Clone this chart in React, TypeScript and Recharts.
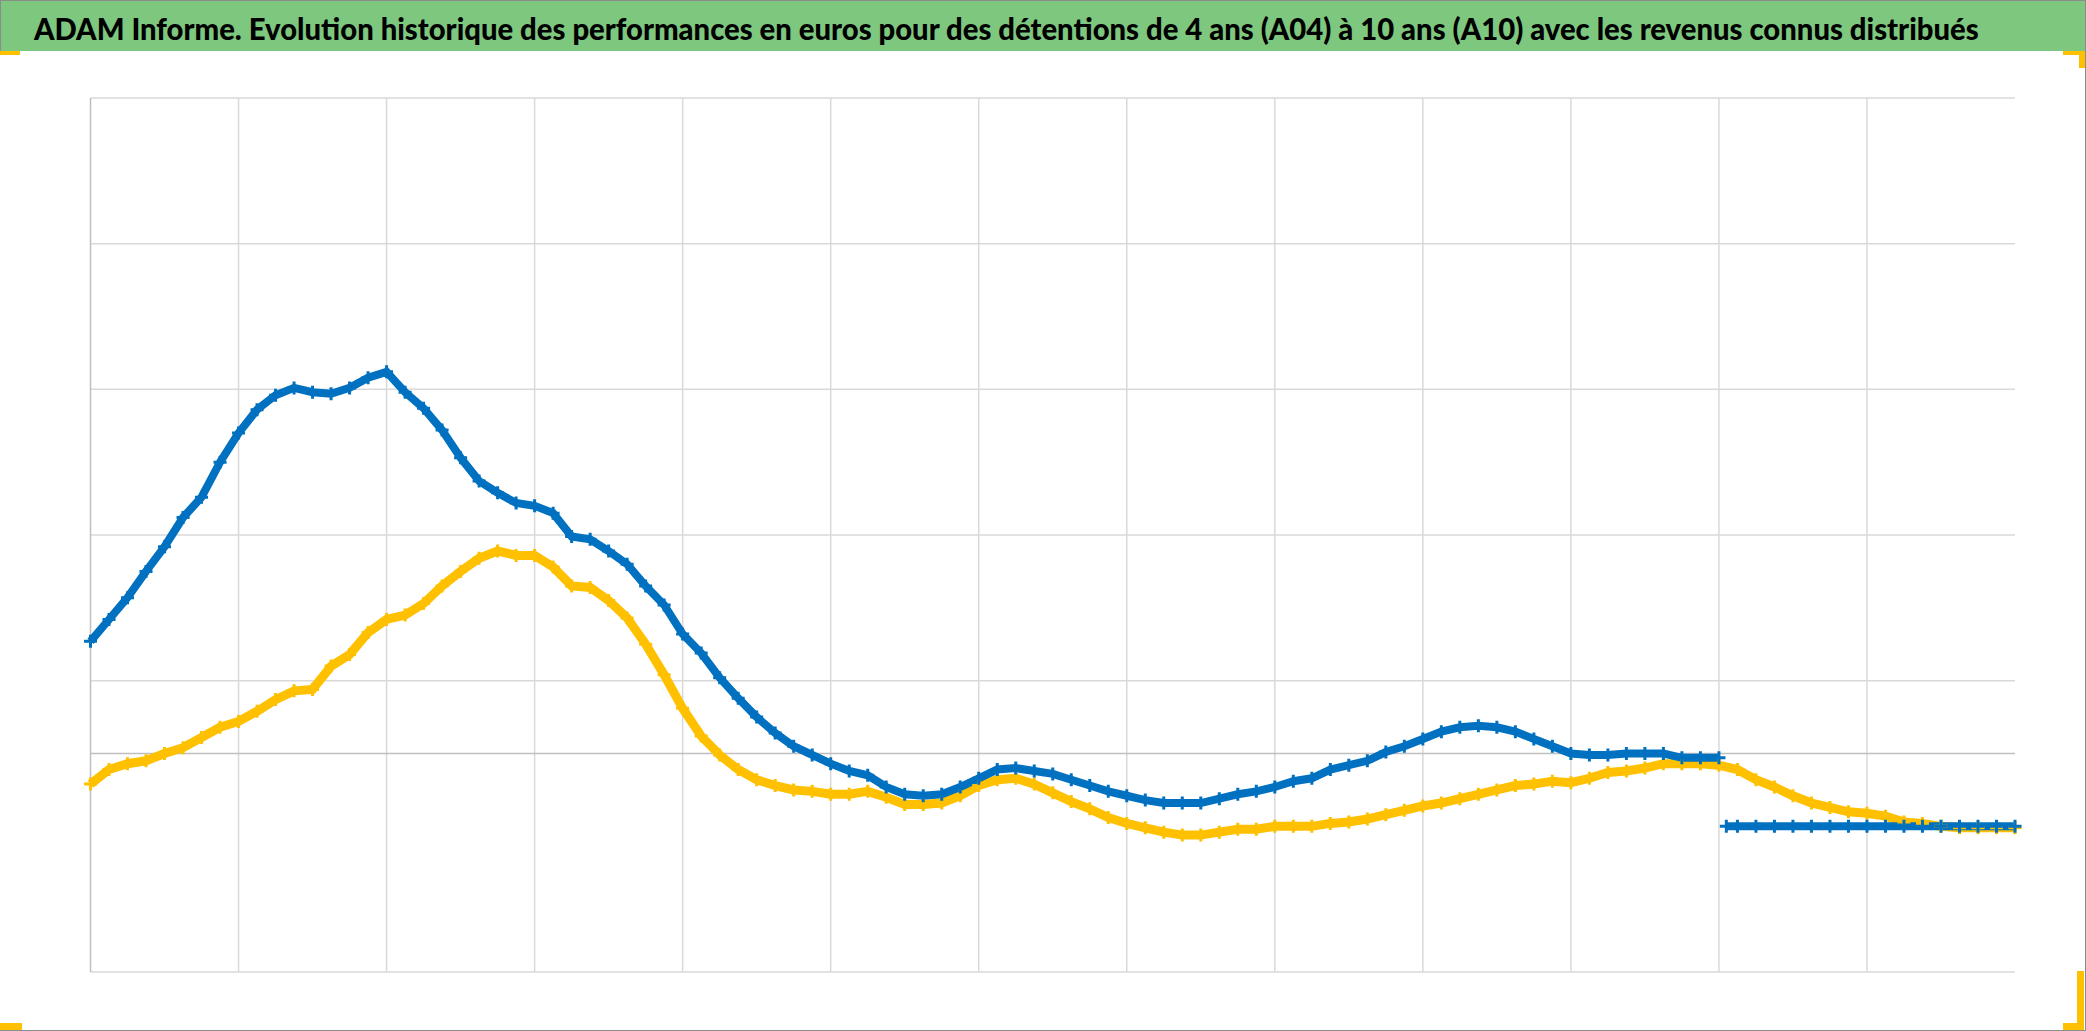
import { useLayoutEffect, useRef, useState } from "react";
import { LineChart, Line, XAxis, YAxis, ReferenceLine } from "recharts";

const TITLE =
  "ADAM Informe. Evolution historique des performances en euros pour des détentions de 4 ans (A04) à 10 ans (A10) avec les revenus connus distribués";

// position along the horizontal axis, in grid intervals
const T = [
  0, 0.125, 0.25, 0.375, 0.5, 0.625, 0.75, 0.875,
  1, 1.125, 1.25, 1.375, 1.5, 1.625, 1.75, 1.875,
  2, 2.125, 2.25, 2.375, 2.5, 2.625, 2.75, 2.875,
  3, 3.125, 3.25, 3.375, 3.5, 3.625, 3.75, 3.875,
  4, 4.125, 4.25, 4.375, 4.5, 4.625, 4.75, 4.875,
  5, 5.125, 5.25, 5.375, 5.5, 5.625, 5.75, 5.875,
  6, 6.125, 6.25, 6.375, 6.5, 6.625, 6.75, 6.875,
  7, 7.125, 7.25, 7.375, 7.5, 7.625, 7.75, 7.875,
  8, 8.125, 8.25, 8.375, 8.5, 8.625, 8.75, 8.875,
  9, 9.125, 9.25, 9.375, 9.5, 9.625, 9.75, 9.875,
  10, 10.125, 10.25, 10.375, 10.5, 10.625, 10.75, 10.875,
  11, 11.125, 11.25, 11.375, 11.5, 11.625, 11.75, 11.875,
  12, 12.125, 12.25, 12.375, 12.5, 12.625, 12.75, 12.875,
  13,
];

// blue series
const A04 = [
  0.77, 0.92, 1.07, 1.25, 1.42, 1.62, 1.76, 2.0,
  2.2, 2.36, 2.46, 2.51, 2.48, 2.47, 2.51, 2.58,
  2.62, 2.48, 2.37, 2.22, 2.03, 1.87, 1.79, 1.72,
  1.7, 1.65, 1.49, 1.47, 1.39, 1.3, 1.15, 1.02,
  0.82, 0.69, 0.52, 0.38, 0.25, 0.14, 0.05, -0.01,
  -0.07, -0.12, -0.15, -0.23, -0.28, -0.29, -0.28, -0.23,
  -0.17, -0.11, -0.1, -0.12, -0.14, -0.18, -0.22, -0.26,
  -0.29, -0.32, -0.34, -0.34, -0.34, -0.31, -0.28, -0.26,
  -0.23, -0.19, -0.17, -0.11, -0.08, -0.05, 0.01, 0.05,
  0.1, 0.15, 0.18, 0.19, 0.18, 0.15, 0.1, 0.05,
  0.0, -0.01, -0.01, 0.0, 0.0, 0.0, -0.03, -0.03,
  -0.03, null, null, null, null, null, null, null,
  null, null, null, null, null, null, null, null,
  null,
];

// yellow series
const A10 = [
  -0.21, -0.11, -0.07, -0.05, 0.0, 0.04, 0.11, 0.18,
  0.22, 0.29, 0.37, 0.43, 0.44, 0.6, 0.68, 0.83,
  0.92, 0.95, 1.03, 1.15, 1.25, 1.34, 1.39, 1.36,
  1.36, 1.28, 1.15, 1.14, 1.05, 0.93, 0.75, 0.54,
  0.31, 0.12, -0.01, -0.11, -0.18, -0.22, -0.25, -0.26,
  -0.28, -0.28, -0.26, -0.3, -0.35, -0.35, -0.34, -0.29,
  -0.22, -0.18, -0.17, -0.21, -0.27, -0.33, -0.38, -0.44,
  -0.48, -0.51, -0.54, -0.56, -0.56, -0.54, -0.52, -0.52,
  -0.5, -0.5, -0.5, -0.48, -0.47, -0.45, -0.42, -0.39,
  -0.36, -0.34, -0.31, -0.28, -0.25, -0.22, -0.21, -0.19,
  -0.2, -0.17, -0.13, -0.12, -0.1, -0.07, -0.07, -0.07,
  -0.08, -0.11, -0.18, -0.23, -0.29, -0.34, -0.37, -0.4,
  -0.41, -0.43, -0.47, -0.48, -0.5, -0.51, -0.51, -0.51,
  -0.51,
];

// flat blue tail at the end
const FLAT_T = [11.05, 11.125, 11.25, 11.375, 11.5, 11.625, 11.75, 11.875, 12, 12.125, 12.25, 12.375, 12.5, 12.625, 12.75, 12.875, 13];
const FLAT_V = [-0.5, -0.5, -0.5, -0.5, -0.5, -0.5, -0.5, -0.5, -0.5, -0.5, -0.5, -0.5, -0.5, -0.5, -0.5, -0.5, -0.5];

const X_TICKS = [0, 1, 2, 3, 4, 5, 6, 7, 8, 9, 10, 11, 12];
const Y_DOMAIN = [-1.5, 4.5];
// horizontal gridlines that are visible (none at -0.5 in the original)
const Y_GRID = [-1.5, 0.5, 1.5, 2.5, 3.5, 4.5];

const BLUE = "#0070C0";
const YELLOW = "#FFC000";
const ORANGE = "#FFC000";
const GRID = "#d9d9d9";
const AXIS = "#bfbfbf";

const rows = T.map((t, i) => ({ t, a04: A04[i], a10: A10[i] }));
const flatRows = FLAT_T.map((t, i) => ({ t, flat: FLAT_V[i] }));

function plusDot(color: string) {
  return (props: any) => {
    const { cx, cy, index } = props;
    if (cx == null || cy == null || Number.isNaN(cy) || props.value == null) {
      return <g key={`n-${index}`} />;
    }
    return (
      <path
        key={`p-${index}`}
        d={`M${cx - 6.5},${cy}h13M${cx},${cy - 6.5}v13`}
        stroke={color}
        strokeWidth={3}
        fill="none"
      />
    );
  };
}

function Title() {
  const ref = useRef<SVGTextElement>(null);
  const [sx, setSx] = useState(1);
  useLayoutEffect(() => {
    if (ref.current) {
      const w = ref.current.getComputedTextLength();
      if (w > 0) setSx(1946 / w);
    }
  }, []);
  return (
    <svg width={2086} height={50} style={{ position: "absolute", left: 0, top: 0 }}>
      <text
        ref={ref}
        transform={`translate(33,39) scale(${sx},1)`}
        fontFamily="Lato, 'Open Sans', sans-serif"
        fontWeight={900}
        fontSize={31}
        fill="#000"
      >
        {TITLE}
      </text>
    </svg>
  );
}

export default function App() {
  return (
    <div
      style={{
        position: "absolute",
        left: 0,
        top: 0,
        width: 2086,
        height: 1031,
        background: "#fff",
        boxSizing: "border-box",
        borderTop: "1.5px solid #8c8c8c",
        borderRight: "1.5px solid #8c8c8c",
        borderBottom: "1.5px solid #8c8c8c",
        overflow: "hidden",
      }}
    >
      <div style={{ position: "absolute", left: 0, top: 0 }}>
        <LineChart
          width={2086}
          height={1031}
          data={rows}
          margin={{ top: 97, right: 71, bottom: 60, left: 90.5 }}
        >
          <XAxis dataKey="t" type="number" domain={[0, 13]} ticks={X_TICKS} hide />
          <YAxis type="number" domain={Y_DOMAIN} ticks={Y_GRID} hide />
          {Y_GRID.map((v) => (
            <ReferenceLine key={`gy-${v}`} y={v} stroke={GRID} strokeWidth={1.5} />
          ))}
          {X_TICKS.map((v) => (
            <ReferenceLine key={`gx-${v}`} x={v} stroke={v === 0 ? AXIS : GRID} strokeWidth={1.5} />
          ))}
          <ReferenceLine y={0} stroke={AXIS} strokeWidth={1.5} />
          <Line
            dataKey="a10"
            type="linear"
            stroke={YELLOW}
            strokeWidth={9}
            dot={plusDot(YELLOW)}
            isAnimationActive={false}
          />
          <Line
            dataKey="a04"
            type="linear"
            stroke={BLUE}
            strokeWidth={8}
            dot={plusDot(BLUE)}
            isAnimationActive={false}
          />
          <Line
            data={flatRows}
            dataKey="flat"
            type="linear"
            stroke={BLUE}
            strokeWidth={8}
            dot={plusDot(BLUE)}
            isAnimationActive={false}
          />
        </LineChart>
      </div>

      {/* title band */}
      <div
        style={{
          position: "absolute",
          left: 0,
          top: 0,
          width: 2086,
          height: 50,
          background: "#7ec77f",
          borderLeft: "1.5px solid #8c8c8c",
          boxSizing: "border-box",
        }}
      >
        <Title />
      </div>

      {/* corner handles */}
      <div style={{ position: "absolute", left: 0, top: 50, width: 20, height: 4, background: ORANGE }} />
      <div style={{ position: "absolute", left: 2063, top: 50, width: 23, height: 4, background: ORANGE }} />
      <div style={{ position: "absolute", left: 2079, top: 50, width: 6, height: 17, background: ORANGE }} />
      <div style={{ position: "absolute", left: 0, top: 1022, width: 22, height: 7, background: ORANGE }} />
      <div style={{ position: "absolute", left: 2063, top: 1022, width: 21, height: 7, background: ORANGE }} />
      <div style={{ position: "absolute", left: 2077, top: 970, width: 7, height: 59, background: ORANGE }} />
    </div>
  );
}
